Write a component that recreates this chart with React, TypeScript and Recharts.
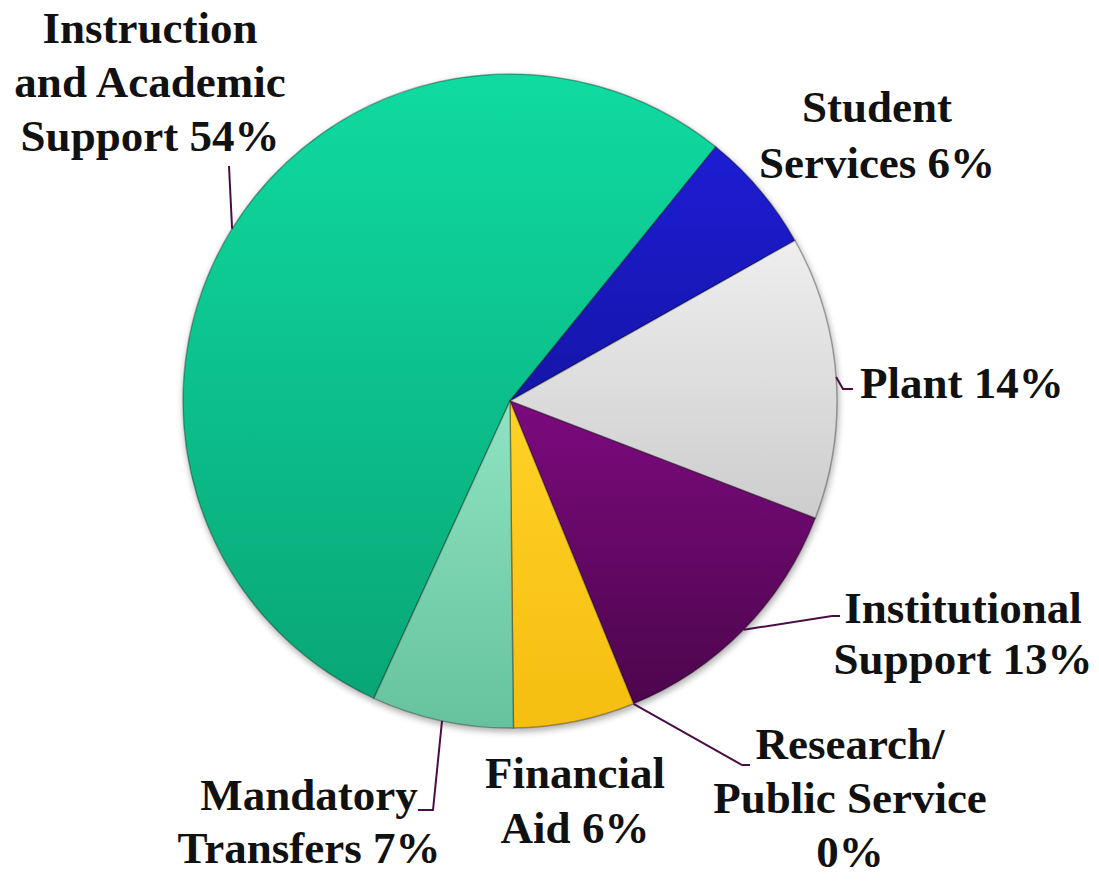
import React from "react";
import { PieChart, Pie, Cell } from "recharts";

// categories in drawing order (clockwise)
const categories = [
    "Instruction and Academic Support",
    "Student Services",
    "Plant",
    "Institutional Support",
    "Research/Public Service",
    "Financial Aid",
    "Mandatory Transfers",
];
const shares = [54, 6, 14, 13, 0, 6, 7];
// label text, {p} is replaced by the share
const labelText = [
    ["Instruction", "and Academic", "Support {p}"],
    ["Student", "Services {p}"],
    ["Plant {p}"],
    ["Institutional", "Support {p}"],
    ["Research/", "Public Service", "{p}"],
    ["Financial", "Aid {p}"],
    ["Mandatory", "Transfers {p}"],
];
const topColors = ["#0FDBA0", "#1D1DD4", "#EEEEEE", "#7C0A7E", "#5A0A5A", "#FFD226", "#8FE4C2"];
const bottomColors = ["#09A676", "#1515A8", "#CDCDCD", "#4C064C", "#5A0A5A", "#F5BE10", "#66C29E"];

const data = categories.map((name, i) => ({ name, value: shares[i] }));

const CX = 510;
const CY = 401;
const R = 327;
const FIRST_ANGLE = 204.6; // clockwise from 12 o'clock where first slice begins

// label placement relative to pie centre: first baseline, line step, anchor, leader elbow points
const labelLayout: { x: number; y: number; step: number; anchor: "start" | "middle" | "end"; leader: number[][] }[] = [
    { x: -360, y: -358, step: 54, anchor: "middle", leader: [[-281, -235]] },
    { x: 367, y: -279, step: 56, anchor: "middle", leader: [] },
    { x: 350, y: -3, step: 55, anchor: "start", leader: [[333, -12], [343, -12]] },
    { x: 453, y: 222, step: 51, anchor: "middle", leader: [[322, 215], [330, 215]] },
    { x: 340, y: 358, step: 54, anchor: "middle", leader: [[232, 364], [240, 364]] },
    { x: 65, y: 387, step: 55, anchor: "middle", leader: [] },
    { x: -201, y: 409, step: 53, anchor: "middle", leader: [[-77, 409], [-92, 409]] },
];

const renderLabel = (props: any) => {
    const { cx, cy, midAngle, outerRadius, index } = props;
    const rad = Math.PI / 180;
    const sx = cx + outerRadius * Math.cos(-midAngle * rad);
    const sy = cy + outerRadius * Math.sin(-midAngle * rad);
    const lay = labelLayout[index];
    const lines = labelText[index].map((t) => t.replace("{p}", `${shares[index]}%`));
    const pts = [[sx, sy], ...lay.leader.map(([x, y]) => [cx + x, cy + y])];
    return (
        <g key={`lbl-${index}`}>
            {lay.leader.length > 0 && (
                <polyline
                    points={pts.map((p) => p.join(",")).join(" ")}
                    fill="none"
                    stroke="#4A0E45"
                    strokeWidth={2}
                />
            )}
            <text
                x={cx + lay.x}
                y={cy + lay.y}
                textAnchor={lay.anchor}
                fontFamily="'Liberation Serif', serif"
                fontWeight="bold"
                fontSize={45}
                fill="#111111"
            >
                {lines.map((l, i) => (
                    <tspan key={i} x={cx + lay.x} dy={i === 0 ? 0 : lay.step}>
                        {l}
                    </tspan>
                ))}
            </text>
        </g>
    );
};

export default function App() {
    return (
        <div style={{ position: "absolute", left: 0, top: 0, background: "#fff" }}>
            <PieChart width={1099} height={882} margin={{ top: 0, right: 0, bottom: 0, left: 0 }}>
                <defs>
                    {topColors.map((c, i) => (
                        <linearGradient key={i} id={`slice${i}`} x1="0" y1="0" x2="0" y2="1">
                            <stop offset="0%" stopColor={c} />
                            <stop offset="100%" stopColor={bottomColors[i]} />
                        </linearGradient>
                    ))}
                </defs>
                {/* soft shadow under the pie */}
                <Pie
                    data={data}
                    dataKey="value"
                    cx={CX + 1}
                    cy={CY + 3}
                    outerRadius={R + 1}
                    startAngle={90 - FIRST_ANGLE}
                    endAngle={90 - FIRST_ANGLE - 360}
                    isAnimationActive={false}
                    stroke="none"
                    fill="#000"
                    fillOpacity={0.3}
                    style={{ filter: "blur(3px)" }}
                    label={false}
                    labelLine={false}
                />
                <Pie
                    data={data}
                    dataKey="value"
                    cx={CX}
                    cy={CY}
                    outerRadius={R}
                    startAngle={90 - FIRST_ANGLE}
                    endAngle={90 - FIRST_ANGLE - 360}
                    isAnimationActive={false}
                    label={renderLabel}
                    labelLine={false}
                >
                    {data.map((d, i) => (
                        <Cell key={d.name} fill={`url(#slice${i})`} stroke="rgba(0,0,0,0.3)" strokeWidth={1.5} />
                    ))}
                </Pie>
            </PieChart>
        </div>
    );
}
